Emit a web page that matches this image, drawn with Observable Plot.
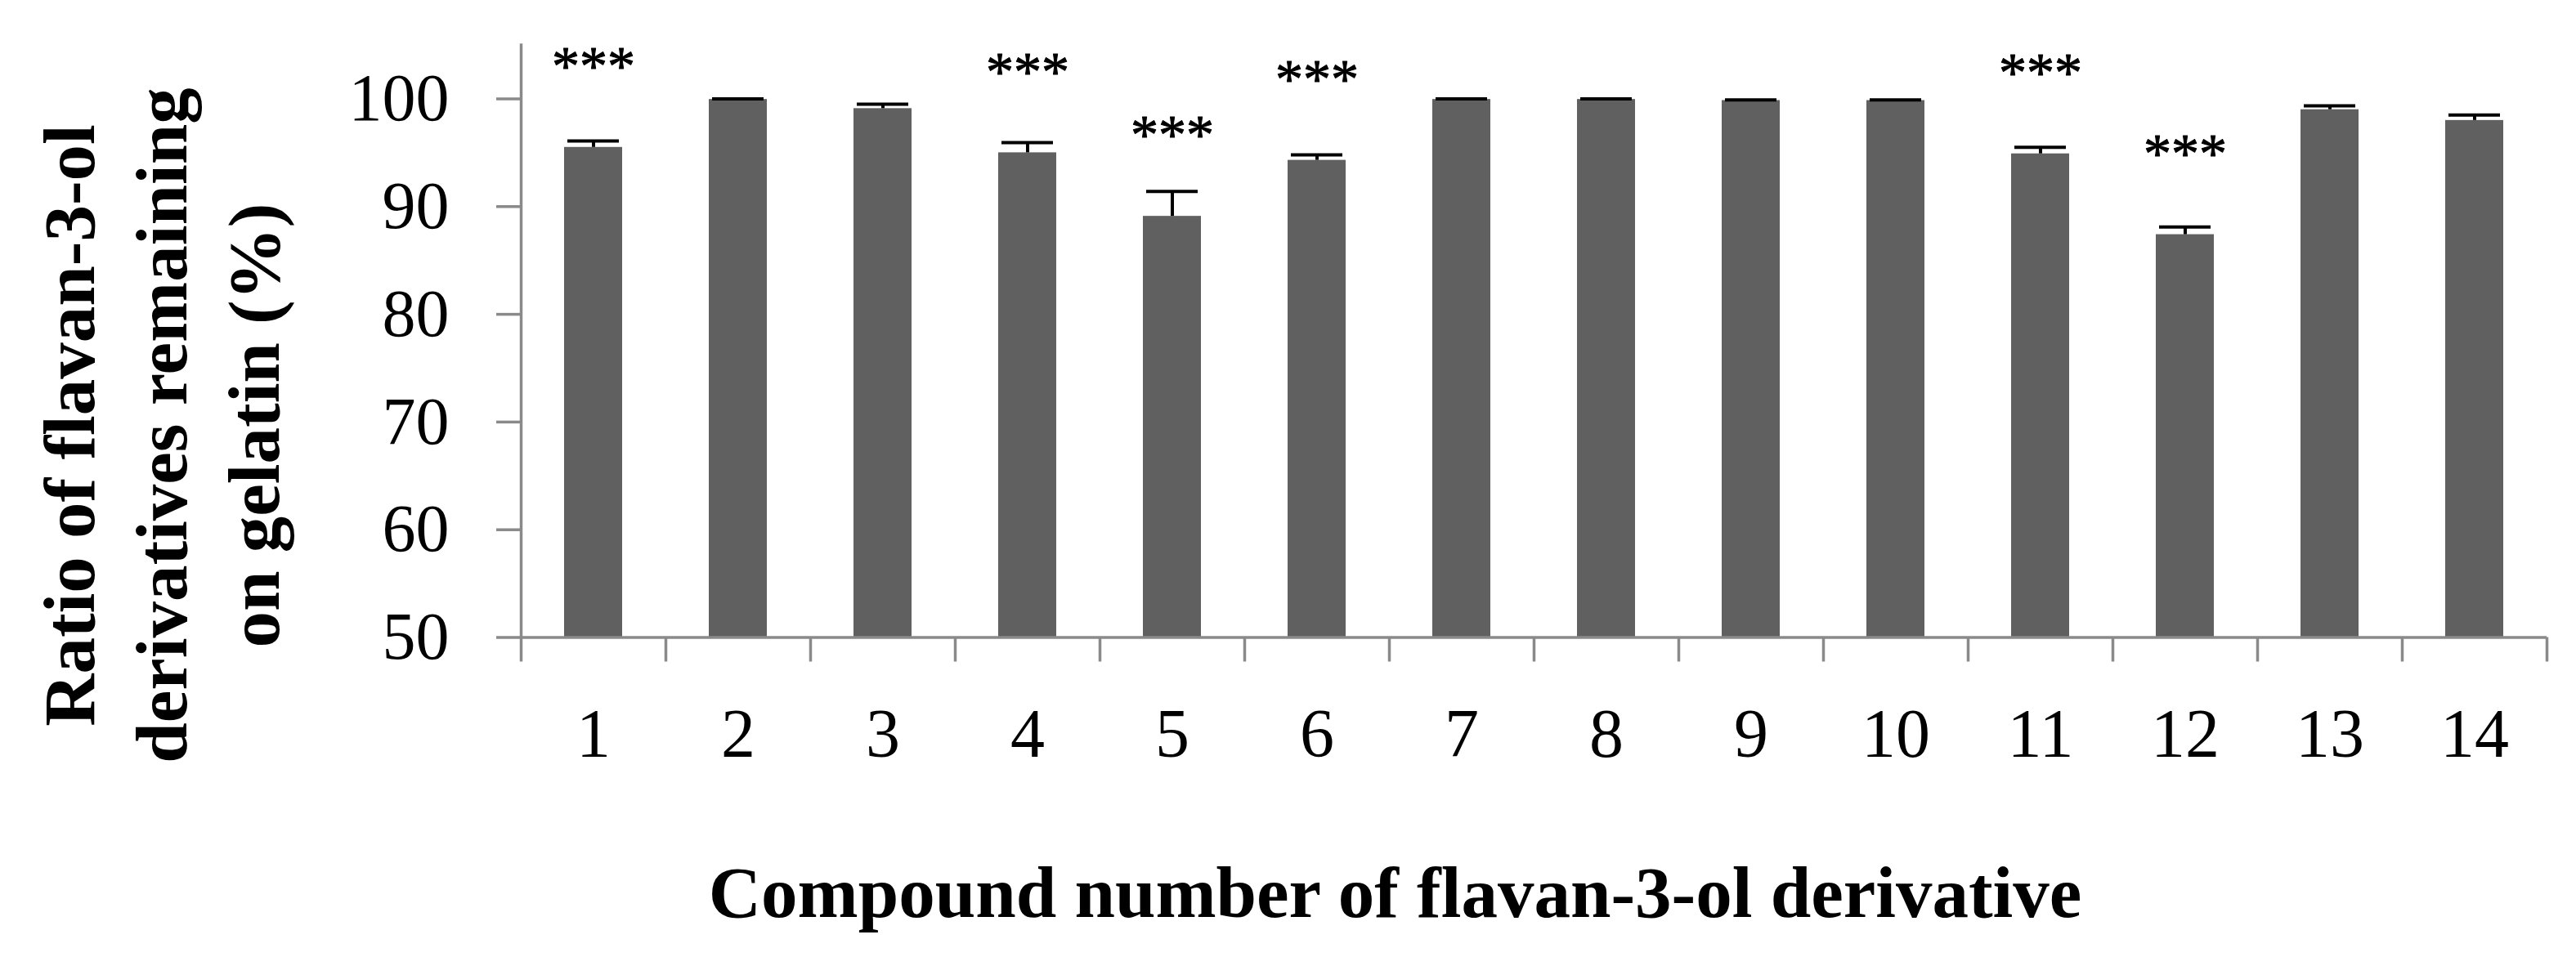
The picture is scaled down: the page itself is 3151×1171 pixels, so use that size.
<!DOCTYPE html>
<html>
<head>
<meta charset="utf-8">
<script src="https://cdn.jsdelivr.net/npm/d3@7"></script>
<script src="https://cdn.jsdelivr.net/npm/@observablehq/plot@0.6"></script>
<style>
  html, body { margin: 0; padding: 0; background: #ffffff; }
  #chart svg { display: block; }
</style>
</head>
<body>
<div id="chart"></div>
<script>
// ---- data ----
const compounds = ["1", "2", "3", "4", "5", "6", "7", "8", "9", "10", "11", "12", "13", "14"];
const ratios = [95.5, 99.95, 99.1, 95.0, 89.1, 94.3, 99.95, 99.95, 99.85, 99.85, 94.9, 87.4, 99.0, 98.0];
const errors = [0.6, 0.05, 0.4, 0.95, 2.3, 0.5, 0.05, 0.05, 0.05, 0.05, 0.6, 0.7, 0.35, 0.5];
const significance = ["***", "", "", "***", "***", "***", "", "", "", "", "***", "***", "", ""];
const yTicks = [50, 60, 70, 80, 90, 100];
const yDomain = [50, 105];
const xTitle = "Compound number of flavan-3-ol derivative";
const yTitle = "Ratio of flavan-3-ol\nderivatives remaining\non gelatin (%)";

const data = compounds.map((c, i) => ({compound: c, ratio: ratios[i], err: errors[i], sig: significance[i]}));

// ---- layout ----
const W = 3151, H = 1171;
const mL = 637, mR = 36, mT = 54.6, mB = 391.5;
const step = (W - mL - mR) / compounds.length; // paddingInner 0.6 + 2*paddingOuter 0.3
const axisGray = "#8a8a8a";
const barGray = "#606060";

const chart = Plot.plot({
  width: W,
  height: H,
  marginLeft: mL,
  marginRight: mR,
  marginTop: mT,
  marginBottom: mB,
  style: {fontFamily: "'Liberation Serif', 'Times New Roman', serif", background: "#ffffff", color: "#000000"},
  x: {type: "band", domain: compounds, paddingInner: 0.6, paddingOuter: 0.3, label: null},
  y: {domain: yDomain, label: null},
  marks: [
    Plot.barY(data, {x: "compound", y1: yDomain[0], y2: "ratio", fill: barGray}),
    Plot.ruleX(data, {x: "compound", y1: "ratio", y2: d => d.ratio + d.err, stroke: "#000000", strokeWidth: 4}),
    Plot.tickY(data, {x: "compound", y: d => d.ratio + d.err, stroke: "#000000", strokeWidth: 4, insetLeft: 67, insetRight: 67}),
    Plot.text(data.filter(d => d.sig), {x: "compound", y: "ratio", text: "sig", dy: -99, fontSize: 68, lineAnchor: "middle", fill: "#000000", stroke: "#000000", strokeWidth: 1}),
    // axes
    Plot.axisY({ticks: yTicks, tickSize: 30, tickPadding: 58, stroke: axisGray, strokeWidth: 3.5, fontSize: 82, fill: "#000000", label: null}),
    Plot.frame({anchor: "left", stroke: axisGray, strokeWidth: 3.5}),
    Plot.ruleY([yDomain[0]], {stroke: axisGray, strokeWidth: 3.5}),
    Plot.axisX({tickSize: 30, dx: -step / 2, stroke: axisGray, strokeWidth: 3.5, tickFormat: () => "", label: null}),
    Plot.axisX({ticks: [compounds[compounds.length - 1]], tickSize: 30, dx: step / 2, stroke: axisGray, strokeWidth: 3.5, tickFormat: () => "", label: null}),
    Plot.axisX({tickSize: 0, tickPadding: 86, fontSize: 84, fill: "#000000", label: null}),
    // titles
    Plot.text([xTitle], {frameAnchor: "bottom", textAnchor: "middle", dx: -170, dy: 314, fontSize: 89, fontWeight: "bold", lineAnchor: "middle", fill: "#000000"}),
    Plot.text([yTitle], {frameAnchor: "left", textAnchor: "middle", rotate: -90, dx: -446, dy: 103, fontSize: 89, fontWeight: "bold", lineHeight: 1.27, lineAnchor: "middle", fill: "#000000"})
  ]
});
document.getElementById("chart").appendChild(chart);
</script>
</body>
</html>
